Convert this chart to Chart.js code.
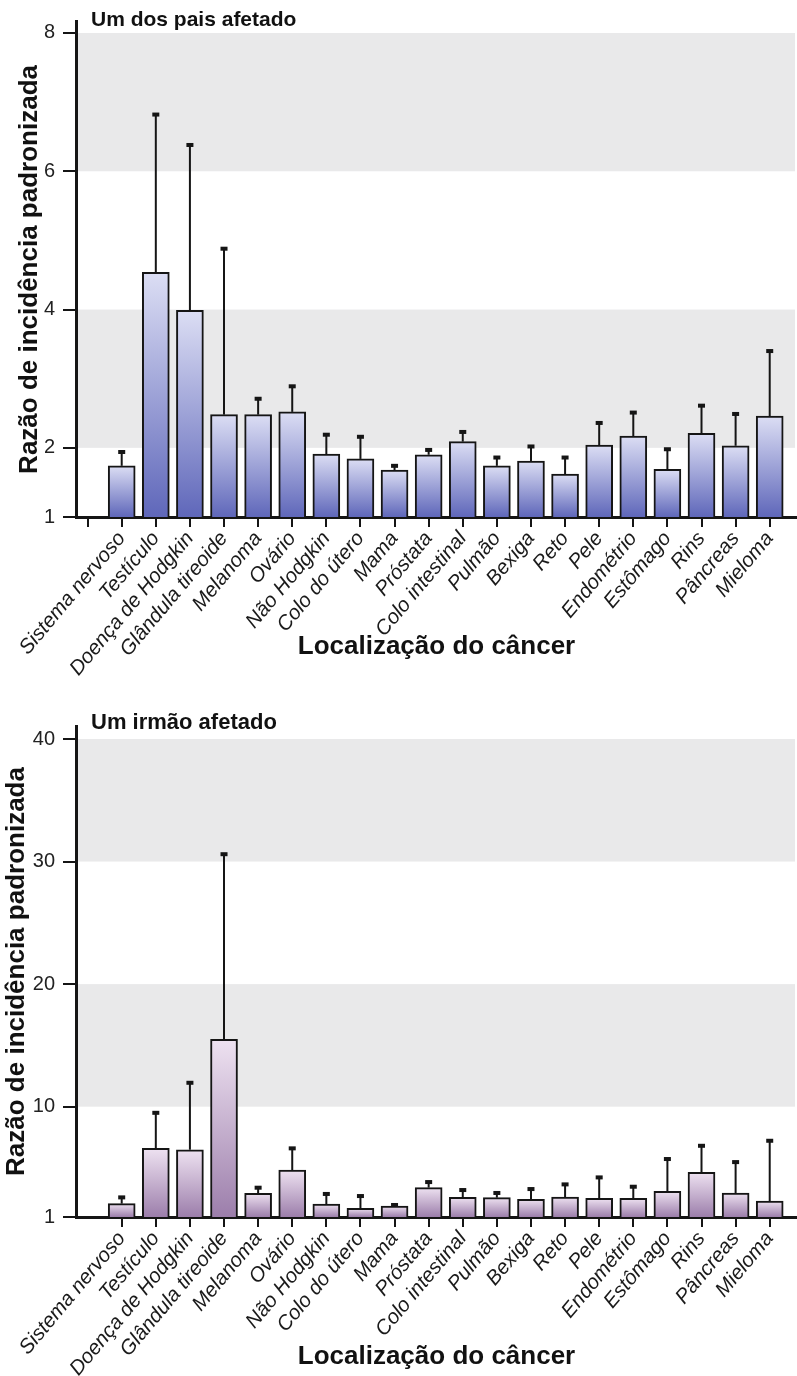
<!DOCTYPE html>
<html>
<head>
<meta charset="utf-8">
<script src="https://cdn.jsdelivr.net/npm/chart.js@4.4.1/dist/chart.umd.min.js"></script>
<style>
  html, body { margin: 0; padding: 0; background: #ffffff; }
  .panel { position: absolute; left: 0; width: 797px; }
  #panelTop { top: 0; height: 690px; }
  #panelBottom { top: 690px; height: 686px; }
</style>
</head>
<body>
<div class="panel" id="panelTop"><canvas id="chartParent" width="797" height="690"></canvas></div>
<div class="panel" id="panelBottom"><canvas id="chartSibling" width="797" height="686"></canvas></div>
<script>
// Cancer sites on the horizontal axis
const categories = [
  'Sistema nervoso', 'Testículo', 'Doença de Hodgkin', 'Glândula tireoide', 'Melanoma',
  'Ovário', 'Não Hodgkin', 'Colo do útero', 'Mama', 'Próstata', 'Colo intestinal',
  'Pulmão', 'Bexiga', 'Reto', 'Pele', 'Endométrio', 'Estômago', 'Rins', 'Pâncreas', 'Mieloma'
];

// Standardized incidence ratio with one affected parent, and upper confidence limit
const parentRatio = [1.74, 4.54, 3.99, 2.48, 2.48, 2.52, 1.91, 1.84, 1.68, 1.90,
                     2.09, 1.74, 1.81, 1.62, 2.04, 2.17, 1.69, 2.21, 2.03, 2.46];
const parentUpper = [1.94, 6.82, 6.38, 4.88, 2.71, 2.89, 2.19, 2.16, 1.74, 1.97,
                     2.23, 1.86, 2.02, 1.86, 2.36, 2.51, 1.98, 2.61, 2.49, 3.40];

// Standardized incidence ratio with one affected sibling, and upper confidence limit
const siblingRatio = [2.09, 6.60, 6.49, 15.5, 2.93, 4.83, 2.06, 1.71, 1.90, 3.40,
                      2.60, 2.58, 2.44, 2.63, 2.52, 2.52, 3.09, 4.64, 2.96, 2.30];
const siblingUpper = [2.60, 9.50, 11.95, 30.6, 3.39, 6.60, 2.88, 2.71, 1.98, 3.85,
                      3.20, 2.96, 3.28, 3.66, 4.23, 3.47, 5.73, 6.81, 5.48, 7.22];

// Y tick values and shaded bands for each panel
const parentTicks = [1, 2, 4, 6, 8];
const siblingTicks = [1, 10, 20, 30, 40];
const parentBands = [[2, 4], [6, 8]];
const siblingBands = [[10, 20], [30, 40]];

const FONT = '"Liberation Sans", Arial, Helvetica, sans-serif';
Chart.defaults.font.family = FONT;
Chart.defaults.color = '#1a1a1a';

// Vertical gradient running from each bar's top down to the baseline
function barGradient(ctx, colors, values) {
  const chart = ctx.chart;
  const y = chart.scales.y;
  if (!y || ctx.dataIndex === undefined) return colors[1];
  const top = y.getPixelForValue(values[ctx.dataIndex]);
  const bottom = y.getPixelForValue(y.min);
  if (!isFinite(top) || !isFinite(bottom) || top === bottom) return colors[1];
  const g = chart.ctx.createLinearGradient(0, top, 0, bottom);
  g.addColorStop(0, colors[0]);
  g.addColorStop(1, colors[1]);
  return g;
}

// Light grey horizontal bands behind the bars
const bandsPlugin = {
  id: 'bands',
  beforeDatasetsDraw(chart, args, opts) {
    const { ctx, chartArea, scales: { y } } = chart;
    ctx.save();
    ctx.fillStyle = opts.color;
    for (const [a, b] of opts.bands) {
      const y1 = y.getPixelForValue(b);
      const y2 = y.getPixelForValue(a);
      ctx.fillRect(chartArea.left + 2, y1, chartArea.right - 2 - chartArea.left - 2, y2 - y1);
    }
    ctx.restore();
  }
};

// One-sided error bars with a small square cap
const errorBarsPlugin = {
  id: 'errorBars',
  afterDatasetsDraw(chart, args, opts) {
    const { ctx, scales: { x, y } } = chart;
    ctx.save();
    ctx.strokeStyle = '#151515';
    ctx.fillStyle = '#151515';
    ctx.lineWidth = 2;
    opts.upper.forEach((u, i) => {
      const px = x.getPixelForValue(i + 1);
      const yTop = y.getPixelForValue(u);
      const yBar = y.getPixelForValue(opts.values[i]);
      ctx.beginPath();
      ctx.moveTo(px, yBar);
      ctx.lineTo(px, yTop);
      ctx.stroke();
      ctx.fillRect(px - 3.5, yTop - 2, 7, 4);
    });
    ctx.restore();
  }
};

// Panel heading at the upper left of each plot
const headingPlugin = {
  id: 'heading',
  afterDraw(chart, args, opts) {
    const ctx = chart.ctx;
    ctx.save();
    ctx.font = 'bold ' + opts.size + 'px ' + FONT;
    ctx.fillStyle = '#111';
    ctx.textBaseline = 'alphabetic';
    ctx.textAlign = 'left';
    ctx.fillText(opts.text, opts.x, opts.y);
    ctx.restore();
  }
};

function buildChart(canvasId, p) {
  const tickPositions = (p.emptyFirstTick ? [0] : []).concat(categories.map((_, i) => i + 1));
  return new Chart(document.getElementById(canvasId), {
    type: 'bar',
    data: {
      datasets: [{
        data: p.values.map((v, i) => ({ x: i + 1, y: v })),
        backgroundColor: (ctx) => barGradient(ctx, p.colors, p.values),
        borderColor: '#151515',
        borderWidth: 2,
        borderSkipped: 'bottom',
        barThickness: 27
      }]
    },
    options: {
      responsive: false,
      animation: false,
      devicePixelRatio: 1,
      layout: { padding: { top: p.padTop, bottom: 0, left: 0, right: 0 } },
      plugins: {
        legend: { display: false },
        tooltip: { enabled: false },
        bands: { bands: p.bands, color: '#e9e9ea' },
        errorBars: { values: p.values, upper: p.upper },
        heading: { text: p.heading, x: 91, y: p.headingY, size: p.headingSize }
      },
      scales: {
        x: {
          type: 'linear',
          offset: false,
          min: -0.34,
          max: 20.8,
          afterBuildTicks: (scale) => { scale.ticks = tickPositions.map(v => ({ value: v })); },
          afterFit: (scale) => { scale.height = p.xHeight; },
          ticks: {
            autoSkip: false,
            maxRotation: 50,
            minRotation: 50,
            padding: 0,
            color: '#1a1a1a',
            font: { size: 20.5, style: 'italic' },
            callback: (v) => (v >= 1 && v <= categories.length) ? categories[v - 1] : ''
          },
          grid: { display: true, offset: false, drawOnChartArea: false, drawTicks: true, tickLength: 10, color: '#151515', lineWidth: 2 },
          border: { display: true, color: '#151515', width: 3 },
          title: {
            display: true,
            text: 'Localização do câncer',
            color: '#111',
            font: { size: 26, weight: 'bold' },
            padding: { top: 0, bottom: p.xTitlePad }
          }
        },
        y: {
          type: 'linear',
          min: 1,
          max: p.yMax,
          afterBuildTicks: (scale) => { scale.ticks = p.ticks.map(v => ({ value: v })); },
          afterFit: (scale) => { scale.width = 76; },
          ticks: { padding: 8, color: '#222', font: { size: 20 } },
          grid: { display: true, drawOnChartArea: false, drawTicks: true, tickLength: 13, color: '#151515', lineWidth: 2 },
          border: { display: true, color: '#151515', width: 3 },
          title: {
            display: true,
            text: 'Razão de incidência padronizada',
            color: '#111',
            font: { size: 26, weight: 'bold' },
            padding: { top: p.yTitlePad, bottom: 0 }
          }
        }
      }
    },
    plugins: [bandsPlugin, errorBarsPlugin, headingPlugin]
  });
}

buildChart('chartParent', {
  values: parentRatio,
  upper: parentUpper,
  ticks: parentTicks,
  bands: parentBands,
  yMax: 8.16,
  colors: ['#dcdef4', '#5f67ba'],
  heading: 'Um dos pais afetado',
  headingSize: 21,
  headingY: 26,
  emptyFirstTick: true,
  yTitlePad: 14,
  padTop: 21.9,
  xHeight: 173,
  xTitlePad: 28
});

buildChart('chartSibling', {
  values: siblingRatio,
  upper: siblingUpper,
  ticks: siblingTicks,
  bands: siblingBands,
  yMax: 41.06,
  colors: ['#eee2f1', '#9c7eab'],
  heading: 'Um irmão afetado',
  headingSize: 22,
  headingY: 39,
  emptyFirstTick: false,
  yTitlePad: 1,
  padTop: 36,
  xHeight: 159,
  xTitlePad: 3.5
});
</script>
</body>
</html>
